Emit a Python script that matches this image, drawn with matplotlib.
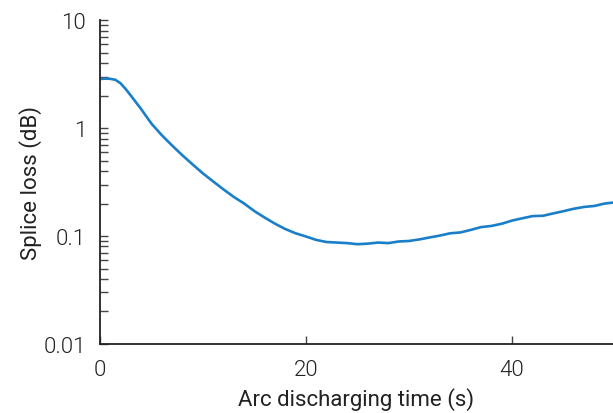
import numpy as np
import matplotlib.pyplot as plt
from matplotlib.ticker import FixedLocator, FixedFormatter, LogLocator, NullFormatter

# datos
tiempo = [0, 0.5, 1, 1.5, 2, 2.5, 3, 4, 5, 6, 7, 8, 9, 10, 11, 12, 13, 14, 15, 16,
          17, 18, 19, 20, 21, 22, 23, 24, 25, 26, 27, 28, 29, 30, 31, 32, 33, 34,
          35, 36, 37, 38, 39, 40, 41, 42, 43, 44, 45, 46, 47, 48, 49, 50]
perdida = [2.85, 2.87, 2.86, 2.8, 2.6, 2.3, 2.0, 1.5, 1.1, 0.86, 0.69, 0.56, 0.46, 0.38,
           0.32, 0.27, 0.23, 0.2, 0.17, 0.148, 0.13, 0.116, 0.106, 0.099, 0.092, 0.088,
           0.087, 0.086, 0.084, 0.085, 0.087, 0.086, 0.089, 0.09, 0.093, 0.097, 0.101,
           0.106, 0.108, 0.114, 0.121, 0.124, 0.13, 0.139, 0.146, 0.153, 0.154, 0.162,
           0.17, 0.179, 0.186, 0.19, 0.2, 0.205]

plt.rcParams['font.family'] = ['Roboto', 'DejaVu Sans']
plt.rcParams['font.weight'] = 300

fig = plt.figure(figsize=(6.13, 4.14), dpi=100)
ax = fig.add_axes([0.163, 0.1667, 0.837, 0.7823])

ax.plot(tiempo, perdida, color="#1a7fc8", linewidth=1.9)

ax.set_yscale("log")
ax.set_ylim(0.01, 10)
ax.set_xlim(0, 49.8)
ax.set_xticks([0, 20, 40])
ax.yaxis.set_major_locator(FixedLocator([0.01, 0.1, 1, 10]))
ax.yaxis.set_major_formatter(FixedFormatter(["0.01", "0.1", "1", "10"]))
ax.yaxis.set_minor_locator(LogLocator(base=10, subs=np.arange(2, 10)))
ax.yaxis.set_minor_formatter(NullFormatter())

for lado in ["top", "right"]:
    ax.spines[lado].set_visible(False)
for lado in ["left", "bottom"]:
    ax.spines[lado].set_linewidth(1.3)
    ax.spines[lado].set_color("#222222")

ax.tick_params(which="both", direction="in", width=1.0, color="#444444",
               labelsize=16, labelcolor="#222222")
ax.tick_params(which="major", length=6)
ax.tick_params(which="minor", length=6)
ax.tick_params(axis="x", pad=11)
ax.tick_params(axis="y", pad=10)

ax.set_xlabel("Arc discharging time (s)", fontsize=16, color="#222222", labelpad=5)
ax.set_ylabel("Splice loss (dB)", fontsize=16, color="#222222", labelpad=1)

fig.savefig("out.png", dpi=100)
